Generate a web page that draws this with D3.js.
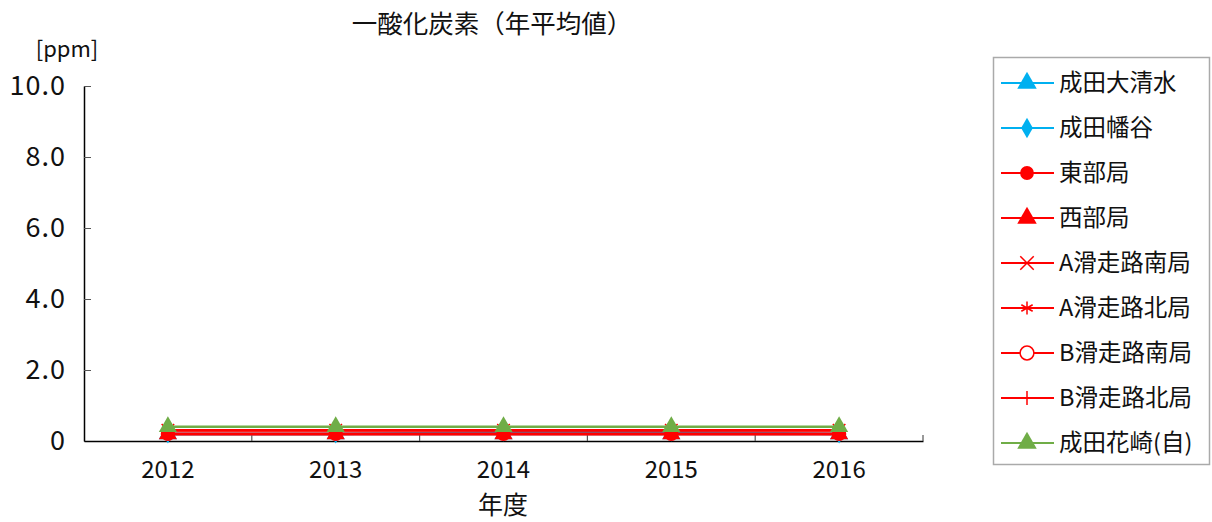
<!DOCTYPE html>
<html>
<head>
	<meta charset="utf-8">
	<title> 一酸化炭素 </title>
	<script src="https://d3js.org/d3.v7.min.js"></script>
	<style>
		body { margin: 0; background: #fff; }
		text { font-family: "Noto Sans CJK JP", "Noto Sans", sans-serif; fill: #111; }
	</style>
</head>
<body>
	<svg width="1212" height="522"></svg>
	<script type="text/javascript">
		// chart data
		let years = ["2012", "2013", "2014", "2015", "2016"];
		let stations = ["成田大清水", "成田幡谷", "東部局", "西部局", "A滑走路南局",
				"A滑走路北局", "B滑走路南局", "B滑走路北局", "成田花崎(自)"];
		let values = [
			[0.2, 0.2, 0.2, 0.2, 0.2],
			[0.2, 0.2, 0.25, 0.25, 0.2],
			[0.2, 0.2, 0.2, 0.2, 0.2],
			[0.2, 0.2, 0.2, 0.2, 0.2],
			[0.3, 0.3, 0.3, 0.3, 0.3],
			[0.3, 0.3, 0.3, 0.3, 0.3],
			[0.2, 0.2, 0.2, 0.2, 0.2],
			[0.3, 0.3, 0.3, 0.3, 0.3],
			[0.4, 0.4, 0.4, 0.4, 0.4]
		];
		let yTicks = [0, 2, 4, 6, 8, 10];
		let yTickLabels = ["0", "2.0", "4.0", "6.0", "8.0", "10.0"];

		let colors = ["#00B0F0", "#00B0F0", "#FF0000", "#FF0000", "#FF0000",
				"#FF0000", "#FF0000", "#FF0000", "#70AD47"];
		let markers = ["triangle", "diamond", "dot", "triangle", "x", "star", "ring", "plus", "triangle"];

		let svg = d3.select("svg");
		let pLeft = 84, pRight = 923, pTop = 86, pBottom = 441;

		let x = d3.scaleBand().domain(years).range([pLeft, pRight]);
		let y = d3.scaleLinear().domain([0, 10]).range([pBottom, pTop]);

		// title & labels
		svg.append("text").attr("x", 492).attr("y", 33).attr("text-anchor", "middle")
			.style("font-size", "25.5px").text("一酸化炭素（年平均値）");
		svg.append("text").attr("x", 67).attr("y", 57).attr("text-anchor", "middle")
			.style("font-size", "22px").text("[ppm]");
		svg.append("text").attr("x", 503).attr("y", 514).attr("text-anchor", "middle")
			.style("font-size", "25px").text("年度");

		// y axis
		let yAxis = d3.axisLeft(y).tickValues(yTicks).tickSizeInner(-7).tickSizeOuter(0)
			.tickFormat((d, i) => yTickLabels[i]);
		let gy = svg.append("g").attr("transform", "translate(" + pLeft + ",0)").call(yAxis);
		gy.select(".domain").attr("stroke", "#000").attr("stroke-width", 1.5);
		gy.selectAll(".tick line").attr("stroke", "#555");
		gy.selectAll(".tick text").attr("x", -18).style("font-size", "27px")
			.style("letter-spacing", "1px").attr("fill", "#111");

		// x axis
		let xAxis = d3.axisBottom(x).tickSize(0).tickSizeOuter(0);
		let gx = svg.append("g").attr("transform", "translate(0," + pBottom + ")").call(xAxis);
		gx.select(".domain").attr("stroke", "#000").attr("stroke-width", 1.5);
		gx.selectAll(".tick text").attr("y", 20).style("font-size", "24px").attr("fill", "#111");
		let bounds = years.map(d => x(d)).slice(1).concat([pRight]);
		svg.append("g").selectAll("line").data(bounds).enter().append("line")
			.attr("x1", d => d).attr("x2", d => d)
			.attr("y1", pBottom).attr("y2", pBottom - 6)
			.attr("stroke", "#555").attr("stroke-width", 1.2);

		function markerPath(type, size)
		{
			if (type == "triangle") return d3.symbol().type(d3.symbolTriangle).size(size * 1.1)();
			if (type == "diamond") return d3.symbol().type(d3.symbolDiamond).size(size * 0.8)();
			if (type == "dot") return d3.symbol().type(d3.symbolCircle).size(size)();
			if (type == "ring") return d3.symbol().type(d3.symbolCircle).size(size)();
			if (type == "x") return d3.symbol().type(d3.symbolTimes).size(size * 0.8)();
			if (type == "star") return d3.symbol().type(d3.symbolAsterisk).size(size * 0.8)();
			if (type == "plus") return "M0,-7L0,7M-1,0L1,0";
		}

		function drawMarker(g, type, color, size, ringFill)
		{
			let hollow = (type == "ring");
			let stroked = (type == "x" || type == "star" || type == "plus");
			g.append("path").attr("d", markerPath(type, size))
				.attr("fill", hollow ? ringFill : (stroked ? "none" : color))
				.attr("stroke", (hollow || stroked) ? color : "none")
				.attr("stroke-width", 1.5);
		}

		// series
		let line = d3.line().x((d, i) => x(years[i]) + x.bandwidth() / 2).y(d => y(d));
		stations.forEach(function(name, s) {
			let g = svg.append("g");
			g.append("path").attr("d", line(values[s])).attr("fill", "none")
				.attr("stroke", colors[s]).attr("stroke-width", 2.5);
			values[s].forEach(function(v, i) {
				let m = g.append("g").attr("transform",
					"translate(" + (x(years[i]) + x.bandwidth() / 2) + "," + y(v) + ")");
				drawMarker(m, markers[s], colors[s], 130, "none");
			});
		});

		// legend
		let legend = svg.append("g");
		legend.append("rect").attr("x", 993.5).attr("y", 57.5).attr("width", 216).attr("height", 407)
			.attr("fill", "#fff").attr("stroke", "#aaa").attr("stroke-width", 1.5);
		stations.forEach(function(name, s) {
			let cy = 83 + s * 45;
			legend.append("line").attr("x1", 1001).attr("x2", 1054).attr("y1", cy).attr("y2", cy)
				.attr("stroke", colors[s]).attr("stroke-width", 2);
			let m = legend.append("g").attr("transform", "translate(1027," + cy + ")");
			drawMarker(m, markers[s], colors[s], 150, "#fff");
			legend.append("text").attr("x", 1059).attr("y", cy + 8)
				.style("font-size", "23.5px").text(name);
		});
	</script>
</body>
</html>
